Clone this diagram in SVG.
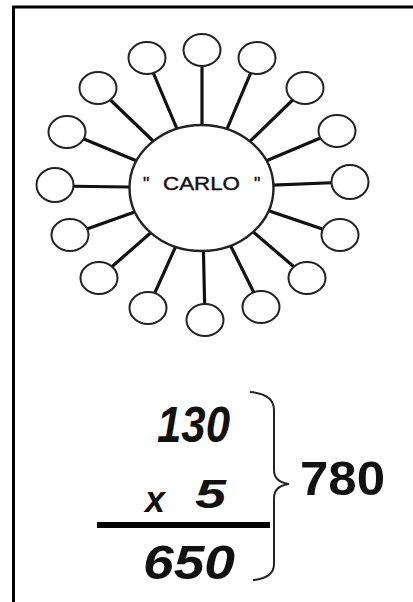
<svg xmlns="http://www.w3.org/2000/svg" width="413" height="602" viewBox="0 0 413 602">
<style>
.spoke{stroke:#111;stroke-width:3.2;stroke-linecap:round}
.leaf{fill:#fff;stroke:#222;stroke-width:2}
.hub{fill:#fff;stroke:#222;stroke-width:2.4}
.num{font-family:"Liberation Sans",Arial,sans-serif;font-weight:bold;font-style:italic;fill:#111}
.lbl{font-family:"Liberation Sans",Arial,sans-serif;font-size:18px;fill:#111;stroke:#111;stroke-width:0.4}
</style>
<rect width="413" height="602" fill="#fff"/>
<path d="M13.5 602 V7 H413" fill="none" stroke="#000" stroke-width="3"/>
<g id="connectors">
<line class="spoke" x1="202" y1="188" x2="202" y2="51"/>
<line class="spoke" x1="202" y1="188" x2="147" y2="58"/>
<line class="spoke" x1="202" y1="188" x2="98" y2="88"/>
<line class="spoke" x1="202" y1="188" x2="67" y2="132"/>
<line class="spoke" x1="202" y1="188" x2="55" y2="186"/>
<line class="spoke" x1="202" y1="188" x2="70" y2="235"/>
<line class="spoke" x1="202" y1="188" x2="99" y2="278"/>
<line class="spoke" x1="202" y1="188" x2="148" y2="308"/>
<line class="spoke" x1="202" y1="188" x2="205" y2="320"/>
<line class="spoke" x1="202" y1="188" x2="261" y2="307"/>
<line class="spoke" x1="202" y1="188" x2="307" y2="278"/>
<line class="spoke" x1="202" y1="188" x2="340" y2="235"/>
<line class="spoke" x1="202" y1="188" x2="350" y2="182"/>
<line class="spoke" x1="202" y1="188" x2="337" y2="131"/>
<line class="spoke" x1="202" y1="188" x2="305" y2="88"/>
<line class="spoke" x1="202" y1="188" x2="257" y2="58"/>
</g>
<g id="hub">
<ellipse class="hub" cx="201.5" cy="188" rx="72" ry="63"/>
<text class="lbl" y="190"><tspan x="143">"</tspan><tspan x="163" textLength="77" lengthAdjust="spacingAndGlyphs">CARLO</tspan><tspan x="254">"</tspan></text>
</g>
<g id="leaves">
<ellipse id="n1" class="leaf" cx="202" cy="50" rx="18.5" ry="16"/>
<ellipse id="n2" class="leaf" cx="147" cy="58" rx="18.5" ry="16"/>
<ellipse id="n3" class="leaf" cx="98" cy="88" rx="18.5" ry="16"/>
<ellipse id="n4" class="leaf" cx="67" cy="132" rx="18.5" ry="16"/>
<ellipse id="n5" class="leaf" cx="55" cy="185" rx="18.5" ry="17"/>
<ellipse id="n6" class="leaf" cx="70" cy="235" rx="18.5" ry="16"/>
<ellipse id="n7" class="leaf" cx="99" cy="278" rx="18.5" ry="16"/>
<ellipse id="n8" class="leaf" cx="148" cy="308" rx="18.5" ry="16"/>
<ellipse id="n9" class="leaf" cx="205" cy="320" rx="18.5" ry="16"/>
<ellipse id="n10" class="leaf" cx="261" cy="307" rx="18.5" ry="16"/>
<ellipse id="n11" class="leaf" cx="307" cy="278" rx="18.5" ry="16"/>
<ellipse id="n12" class="leaf" cx="340" cy="235" rx="18.5" ry="16"/>
<ellipse id="n13" class="leaf" cx="350" cy="182" rx="18.5" ry="17"/>
<ellipse id="n14" class="leaf" cx="337" cy="131" rx="18.5" ry="16"/>
<ellipse id="n15" class="leaf" cx="305" cy="88" rx="18.5" ry="16"/>
<ellipse id="n16" class="leaf" cx="257" cy="58" rx="18.5" ry="16"/>
</g>
<g id="calc">
<text class="num" x="157" y="442" font-size="50" textLength="73" lengthAdjust="spacingAndGlyphs">130</text>
<text class="num" x="145" y="512" font-size="36" textLength="20" lengthAdjust="spacingAndGlyphs">x</text>
<text class="num" x="195" y="508" font-size="40" textLength="31" lengthAdjust="spacingAndGlyphs">5</text>
<line x1="97" y1="525" x2="270" y2="525" stroke="#000" stroke-width="6"/>
<text class="num" x="143" y="579" font-size="48" textLength="92" lengthAdjust="spacingAndGlyphs">650</text>
<path d="M250 392 Q274 394 274 410 V470 Q274 482 289 484 Q274 486 274 498 V564 Q274 578 253 580" fill="none" stroke="#222" stroke-width="2"/>
<text x="300" y="495" font-family="Liberation Sans,Arial,sans-serif" font-weight="bold" font-size="48" textLength="85" lengthAdjust="spacingAndGlyphs" fill="#111">780</text>
</g>
</svg>
